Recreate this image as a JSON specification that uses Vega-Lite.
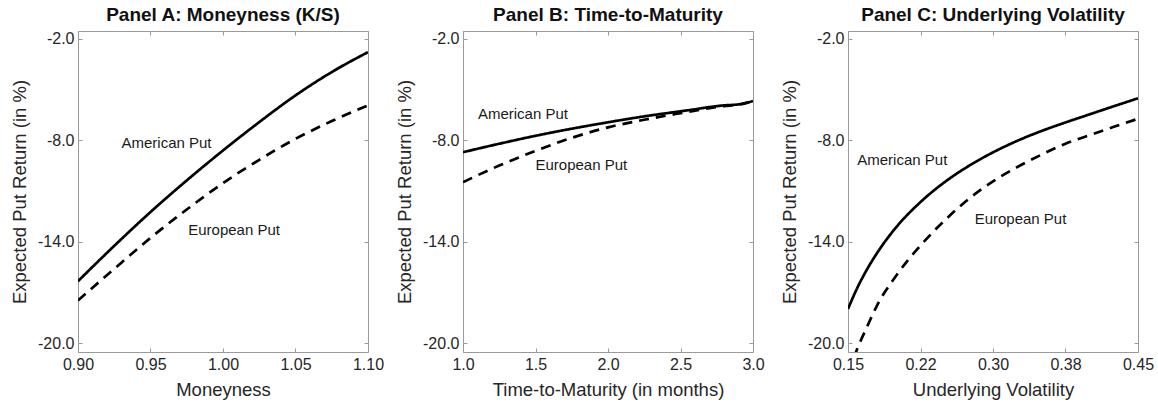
{
  "$schema": "https://vega.github.io/schema/vega-lite/v6.json",
  "padding": {"left": 10, "top": 5, "right": 5, "bottom": 5},
  "background": "white",
  "bounds": "flush",
  "spacing": 95,
  "config": {
    "font": "Liberation Sans",
    "view": {"stroke": "#9a9a9a", "strokeWidth": 1},
    "axis": {"domain": false, "grid": false, "ticks": true, "tickColor": "#9a9a9a", "tickSize": -4, "labelFontSize": 16, "titleFontSize": 18.5, "titleFontWeight": "normal", "labelColor": "#262626", "titleColor": "#262626", "labelPadding": 8, "titlePadding": 8, "labelFlush": false},
    "title": {"fontSize": 19, "fontWeight": "bold", "color": "#111111", "offset": 6, "anchor": "middle"}
  },
  "datasets": {
    "A": [
      {"x": 0.900, "y": -16.34, "type": "American"}, {"x": 0.925, "y": -14.25, "type": "American"}, {"x": 0.950, "y": -12.25, "type": "American"},
      {"x": 0.975, "y": -10.38, "type": "American"}, {"x": 1.000, "y": -8.61, "type": "American"}, {"x": 1.025, "y": -6.93, "type": "American"},
      {"x": 1.050, "y": -5.35, "type": "American"}, {"x": 1.075, "y": -3.97, "type": "American"}, {"x": 1.100, "y": -2.79, "type": "American"},
      {"x": 0.900, "y": -17.48, "type": "European"}, {"x": 0.925, "y": -15.61, "type": "European"}, {"x": 0.950, "y": -13.78, "type": "European"},
      {"x": 0.975, "y": -12.10, "type": "European"}, {"x": 1.000, "y": -10.54, "type": "European"}, {"x": 1.025, "y": -9.16, "type": "European"},
      {"x": 1.050, "y": -7.92, "type": "European"}, {"x": 1.075, "y": -6.87, "type": "European"}, {"x": 1.100, "y": -5.94, "type": "European"}
    ],
    "B": [
      {"x": 1.00, "y": -8.71, "type": "American"}, {"x": 1.25, "y": -8.21, "type": "American"}, {"x": 1.50, "y": -7.74, "type": "American"},
      {"x": 1.75, "y": -7.32, "type": "American"}, {"x": 2.00, "y": -6.94, "type": "American"}, {"x": 2.25, "y": -6.59, "type": "American"},
      {"x": 2.50, "y": -6.29, "type": "American"}, {"x": 2.60, "y": -6.17, "type": "American"}, {"x": 2.70, "y": -6.04, "type": "American"},
      {"x": 2.80, "y": -5.94, "type": "American"}, {"x": 2.90, "y": -5.88, "type": "American"}, {"x": 3.00, "y": -5.68, "type": "American"},
      {"x": 1.00, "y": -10.48, "type": "European"}, {"x": 1.25, "y": -9.50, "type": "European"}, {"x": 1.50, "y": -8.63, "type": "European"},
      {"x": 1.75, "y": -7.86, "type": "European"}, {"x": 2.00, "y": -7.24, "type": "European"}, {"x": 2.25, "y": -6.79, "type": "European"},
      {"x": 2.50, "y": -6.40, "type": "European"}, {"x": 2.60, "y": -6.25, "type": "European"}, {"x": 2.70, "y": -6.10, "type": "European"},
      {"x": 2.80, "y": -5.98, "type": "European"}, {"x": 2.90, "y": -5.90, "type": "European"}, {"x": 3.00, "y": -5.69, "type": "European"}
    ],
    "C": [
      {"x": 0.150, "y": -17.98, "type": "American"}, {"x": 0.160, "y": -16.69, "type": "American"}, {"x": 0.170, "y": -15.61, "type": "American"},
      {"x": 0.180, "y": -14.68, "type": "American"}, {"x": 0.200, "y": -13.14, "type": "American"}, {"x": 0.225, "y": -11.66, "type": "American"},
      {"x": 0.250, "y": -10.48, "type": "American"}, {"x": 0.275, "y": -9.52, "type": "American"}, {"x": 0.300, "y": -8.72, "type": "American"},
      {"x": 0.325, "y": -8.04, "type": "American"}, {"x": 0.350, "y": -7.46, "type": "American"}, {"x": 0.375, "y": -6.95, "type": "American"},
      {"x": 0.400, "y": -6.47, "type": "American"}, {"x": 0.425, "y": -5.99, "type": "American"}, {"x": 0.450, "y": -5.52, "type": "American"},
      {"x": 0.150, "y": -21.80, "type": "European"}, {"x": 0.160, "y": -20.28, "type": "European"}, {"x": 0.170, "y": -19.00, "type": "European"},
      {"x": 0.180, "y": -17.78, "type": "European"}, {"x": 0.200, "y": -16.00, "type": "European"}, {"x": 0.225, "y": -14.23, "type": "European"},
      {"x": 0.250, "y": -12.75, "type": "European"}, {"x": 0.275, "y": -11.47, "type": "European"}, {"x": 0.300, "y": -10.44, "type": "European"},
      {"x": 0.325, "y": -9.59, "type": "European"}, {"x": 0.350, "y": -8.86, "type": "European"}, {"x": 0.375, "y": -8.21, "type": "European"},
      {"x": 0.400, "y": -7.70, "type": "European"}, {"x": 0.425, "y": -7.21, "type": "European"}, {"x": 0.450, "y": -6.73, "type": "European"}
    ],
    "labels": [
      {"panel": "A", "x": 0.930, "y": -8.17, "label": "American Put"},
      {"panel": "A", "x": 0.976, "y": -13.34, "label": "European Put"},
      {"panel": "B", "x": 1.103, "y": -6.47, "label": "American Put"},
      {"panel": "B", "x": 1.500, "y": -9.49, "label": "European Put"},
      {"panel": "C", "x": 0.1596, "y": -9.2, "label": "American Put"},
      {"panel": "C", "x": 0.281, "y": -12.65, "label": "European Put"}
    ]
  },
  "hconcat": [
    {
      "width": 290, "height": 321,
      "title": "Panel A: Moneyness (K/S)",
      "resolve": {"axis": {"x": "independent", "y": "independent"}},
      "layer": [
        {
          "data": {"name": "A"},
          "mark": {"type": "line", "color": "black", "strokeWidth": 2.7, "clip": true, "interpolate": "monotone"},
          "encoding": {
            "x": {"field": "x", "type": "quantitative", "scale": {"domain": [0.9, 1.1], "nice": false, "zero": false}, "axis": {"values": [0.9, 0.95, 1.0, 1.05, 1.1], "format": ".2f", "title": "Moneyness"}},
            "y": {"field": "y", "type": "quantitative", "scale": {"domain": [-20.53, -1.54], "nice": false, "zero": false}, "axis": {"values": [-20, -14, -8, -2], "labelExpr": "datum.value + '.0'", "title": "Expected Put Return (in %)"}},
            "strokeDash": {"field": "type", "type": "nominal", "scale": {"domain": ["American", "European"], "range": [[1, 0], [10, 7]]}, "legend": null}
          }
        },
        {
          "data": {"name": "labels"},
          "transform": [{"filter": "datum.panel == 'A'"}],
          "mark": {"type": "text", "align": "left", "baseline": "middle", "fontSize": 15, "color": "#1a1a1a"},
          "encoding": {
            "x": {"field": "x", "type": "quantitative", "axis": {"orient": "top", "values": [0.9, 0.95, 1.0, 1.05, 1.1], "labels": false, "title": null}},
            "y": {"field": "y", "type": "quantitative", "axis": {"orient": "right", "values": [-20, -14, -8, -2], "labels": false, "title": null}},
            "text": {"field": "label"}
          }
        }
      ]
    },
    {
      "width": 290, "height": 321,
      "title": "Panel B: Time-to-Maturity",
      "resolve": {"axis": {"x": "independent", "y": "independent"}},
      "layer": [
        {
          "data": {"name": "B"},
          "mark": {"type": "line", "color": "black", "strokeWidth": 2.7, "clip": true, "interpolate": "monotone"},
          "encoding": {
            "x": {"field": "x", "type": "quantitative", "scale": {"domain": [1, 3], "nice": false, "zero": false}, "axis": {"values": [1, 1.5, 2, 2.5, 3], "format": ".1f", "title": "Time-to-Maturity (in months)"}},
            "y": {"field": "y", "type": "quantitative", "scale": {"domain": [-20.53, -1.54], "nice": false, "zero": false}, "axis": {"values": [-20, -14, -8, -2], "labelExpr": "datum.value + '.0'", "title": "Expected Put Return (in %)"}},
            "strokeDash": {"field": "type", "type": "nominal", "scale": {"domain": ["American", "European"], "range": [[1, 0], [10, 7]]}, "legend": null}
          }
        },
        {
          "data": {"name": "labels"},
          "transform": [{"filter": "datum.panel == 'B'"}],
          "mark": {"type": "text", "align": "left", "baseline": "middle", "fontSize": 15, "color": "#1a1a1a"},
          "encoding": {
            "x": {"field": "x", "type": "quantitative", "axis": {"orient": "top", "values": [1, 1.5, 2, 2.5, 3], "labels": false, "title": null}},
            "y": {"field": "y", "type": "quantitative", "axis": {"orient": "right", "values": [-20, -14, -8, -2], "labels": false, "title": null}},
            "text": {"field": "label"}
          }
        }
      ]
    },
    {
      "width": 290, "height": 321,
      "title": "Panel C: Underlying Volatility",
      "resolve": {"axis": {"x": "independent", "y": "independent"}},
      "layer": [
        {
          "data": {"name": "C"},
          "mark": {"type": "line", "color": "black", "strokeWidth": 2.7, "clip": true, "interpolate": "monotone"},
          "encoding": {
            "x": {"field": "x", "type": "quantitative", "scale": {"domain": [0.15, 0.45], "nice": false, "zero": false}, "axis": {"values": [0.15, 0.225, 0.3, 0.375, 0.45], "labelExpr": "datum.value == 0.225 ? '0.22' : format(datum.value, '.2f')", "title": "Underlying Volatility"}},
            "y": {"field": "y", "type": "quantitative", "scale": {"domain": [-20.53, -1.54], "nice": false, "zero": false}, "axis": {"values": [-20, -14, -8, -2], "labelExpr": "datum.value + '.0'", "title": "Expected Put Return (in %)"}},
            "strokeDash": {"field": "type", "type": "nominal", "scale": {"domain": ["American", "European"], "range": [[1, 0], [10, 7]]}, "legend": null}
          }
        },
        {
          "data": {"name": "labels"},
          "transform": [{"filter": "datum.panel == 'C'"}],
          "mark": {"type": "text", "align": "left", "baseline": "middle", "fontSize": 15, "color": "#1a1a1a"},
          "encoding": {
            "x": {"field": "x", "type": "quantitative", "axis": {"orient": "top", "values": [0.15, 0.225, 0.3, 0.375, 0.45], "labels": false, "title": null}},
            "y": {"field": "y", "type": "quantitative", "axis": {"orient": "right", "values": [-20, -14, -8, -2], "labels": false, "title": null}},
            "text": {"field": "label"}
          }
        }
      ]
    }
  ]
}
